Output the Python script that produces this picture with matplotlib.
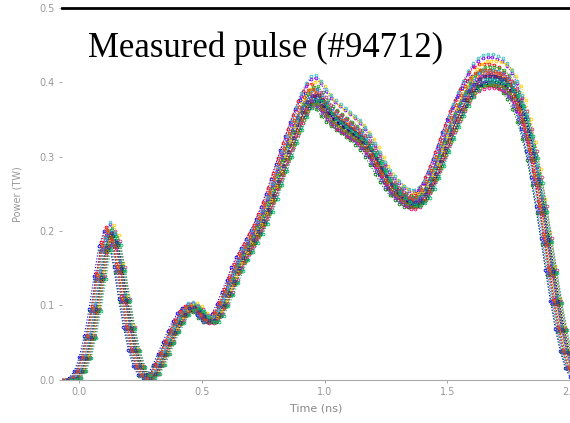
import numpy as np
import matplotlib
matplotlib.use("Agg")
import matplotlib.pyplot as plt

# base pulse shape (time in ns, power in TW)
t_base = [-0.06, -0.04, -0.02, 0.00, 0.02, 0.04, 0.06, 0.08, 0.10, 0.12,
          0.14, 0.16, 0.18, 0.20, 0.22, 0.24, 0.26, 0.28, 0.30, 0.32,
          0.34, 0.36, 0.38, 0.40, 0.42, 0.44, 0.46, 0.48, 0.50, 0.52,
          0.54, 0.56, 0.58, 0.60, 0.62, 0.64, 0.66, 0.68, 0.70, 0.72,
          0.74, 0.76, 0.78, 0.80, 0.82, 0.84, 0.86, 0.88, 0.90, 0.92,
          0.94, 0.96, 0.98, 1.00, 1.02, 1.04, 1.06, 1.08, 1.10, 1.12,
          1.14, 1.16, 1.18, 1.20, 1.22, 1.24, 1.26, 1.28, 1.30, 1.32,
          1.34, 1.36, 1.38, 1.40, 1.42, 1.44, 1.46, 1.48, 1.50, 1.52,
          1.54, 1.56, 1.58, 1.60, 1.62, 1.64, 1.66, 1.68, 1.70, 1.72,
          1.74, 1.76, 1.78, 1.80, 1.82, 1.84, 1.86, 1.88, 1.90, 1.92,
          1.94, 1.96, 1.98, 2.00, 2.02, 2.04]
p_base = [0.000, 0.000, 0.003, 0.012, 0.030, 0.058, 0.095, 0.138, 0.178, 0.198,
          0.185, 0.150, 0.108, 0.070, 0.040, 0.018, 0.006, 0.003, 0.008, 0.020,
          0.035, 0.050, 0.065, 0.078, 0.089, 0.096, 0.098, 0.094, 0.086, 0.080,
          0.080, 0.088, 0.101, 0.117, 0.133, 0.150, 0.164, 0.176, 0.188, 0.200,
          0.214, 0.230, 0.248, 0.267, 0.287, 0.306, 0.325, 0.343, 0.360, 0.373,
          0.382, 0.383, 0.376, 0.366, 0.358, 0.352, 0.347, 0.342, 0.337, 0.332,
          0.326, 0.318, 0.309, 0.298, 0.286, 0.274, 0.264, 0.256, 0.250, 0.244,
          0.240, 0.239, 0.242, 0.250, 0.262, 0.277, 0.294, 0.312, 0.330, 0.347,
          0.362, 0.376, 0.388, 0.398, 0.404, 0.408, 0.409, 0.409, 0.407, 0.404,
          0.398, 0.389, 0.376, 0.358, 0.334, 0.305, 0.270, 0.231, 0.189, 0.146,
          0.105, 0.068, 0.038, 0.016, 0.004, 0.000]

# shot-to-shot timing offsets (ns) and amplitude factors of the overlaid traces
shifts = [-0.020, -0.015, -0.010, -0.008, -0.005, -0.003, 0.000, 0.002,
          0.004, 0.006, 0.008, 0.010, 0.012, 0.015, 0.018, 0.020,
          0.022, 0.025, -0.012, 0.005, 0.014, -0.006, 0.009, 0.028]
scales = [1.01, 0.97, 1.04, 0.99, 1.00, 1.02, 0.97, 1.01,
          1.06, 0.98, 1.02, 0.96, 1.03, 1.00, 0.98, 1.05,
          0.99, 1.01, 0.98, 1.07, 0.97, 1.02, 1.00, 0.98]
colors = ["#0000ff", "#008000", "#ff0000", "#00bfbf", "#bf00bf", "#bfbf00",
          "#404040", "#ff8000", "#7f00ff", "#804000", "#00a0ff", "#ff0080",
          "#20a020", "#a00000", "#000080", "#ffd000", "#008080", "#c04080",
          "#6040c0", "#40c0c0", "#808000", "#e04020", "#2040a0", "#00c060"]

fig = plt.figure(figsize=(5.70, 4.23), dpi=100)
ax = fig.add_axes([0.109, 0.102, 0.891, 0.879])

t = np.array(t_base)
p = np.array(p_base)
for dt, s, c in zip(shifts, scales, colors):
    ax.plot(t + dt, p * s, linestyle=':', linewidth=0.8, color=c,
            marker='o', markersize=2.0, markerfacecolor='none',
            markeredgewidth=0.6)

ax.set_xlim(-0.07, 2.0)
ax.set_ylim(0, 0.5)
ax.set_xticks([0, 0.5, 1.0, 1.5, 2.0])
ax.set_yticks([0, 0.1, 0.2, 0.3, 0.4, 0.5])
ax.tick_params(labelsize=7, colors='#999999', length=2, width=0.6)

ax.spines['left'].set_visible(False)
ax.spines['right'].set_visible(False)
ax.spines['bottom'].set_color('#aaaaaa')
ax.spines['bottom'].set_linewidth(0.8)
ax.spines['top'].set_color('black')
ax.spines['top'].set_linewidth(2.0)

ax.set_xlabel('Time (ns)', fontsize=8, color='#888888', labelpad=4)
ax.set_ylabel('Power (TW)', fontsize=7, color='#999999', labelpad=12)

fig.text(0.154, 0.865, 'Measured pulse (#94712)', fontsize=25,
         family='Liberation Serif', color='black', va='baseline')

fig.savefig('out.png', dpi=100)
